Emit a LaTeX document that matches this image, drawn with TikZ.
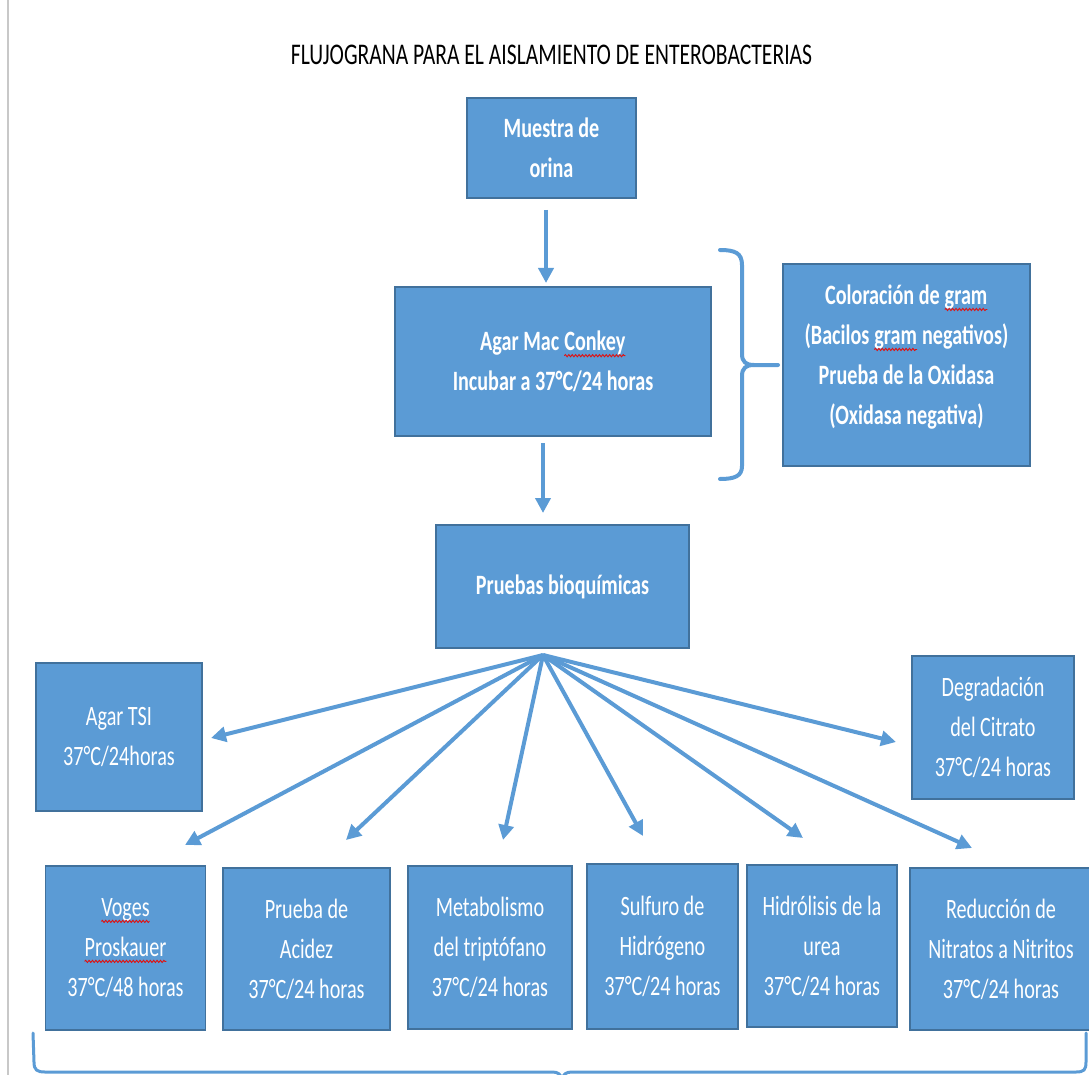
\documentclass[tikz,border=0pt]{standalone}
\usepackage{fontspec}
\setmainfont{Carlito}[FakeStretch=0.72]
\usetikzlibrary{arrows.meta,decorations.pathmorphing}
\definecolor{boxblue}{HTML}{5B9BD5}
\definecolor{boxedge}{HTML}{41719C}
\definecolor{squigred}{HTML}{E01010}
\definecolor{edgegray}{HTML}{C8C8C8}
\newcommand\sqw[1]{\tikz[baseline=(sqn.base)]{\node[draw=none,fill=none,minimum width=0pt,minimum height=0pt,inner sep=0pt,outer sep=0pt,text=white](sqn){#1};\draw[squigred,line width=0.9pt,decorate,decoration={snake,amplitude=1.1pt,segment length=3.4pt}]([yshift=-5pt]sqn.base west)--([yshift=-5pt]sqn.base east);}}
\begin{document}
\begin{tikzpicture}[x=1pt,y=-1pt,
  box/.style={draw=boxedge,line width=1.2pt,fill=boxblue,text=white,align=center,inner sep=0pt,font=\fontsize{28}{40}\selectfont},
  bbox/.style={box,font=\fontsize{28}{40}\selectfont\bfseries},
  txt/.style={text=white,align=center,inner sep=0pt,font=\fontsize{28}{40}\selectfont\bfseries},
  arr/.style={draw=boxblue,line width=4pt,-{Triangle[length=15pt,width=15pt]}},
  brace/.style={draw=boxblue,line width=4pt,line cap=round}]
\useasboundingbox (0,0) rectangle (1089,1075);
\clip (0,0) rectangle (1089,1075);
\draw[edgegray,line width=1.5pt] (8,0) -- (8,1075);
\node[font=\fontsize{30}{36}\selectfont] (title) at (551.5,55) {FLUJOGRANA PARA EL AISLAMIENTO DE ENTEROBACTERIAS};
\node[bbox,minimum width=169pt,minimum height=100pt] (muestra) at (551.5,148) {Muestra de\\orina};
\node[bbox,minimum width=316pt,minimum height=149pt] (mac) at (553,361.5) {Agar Mac \sqw{Conkey}\\Incubar a 37°C/24 horas};
\node[box,minimum width=247pt,minimum height=202pt] (gram) at (906.5,365) {};
\node[txt] (gramtxt) at (906.5,357) {Coloración de \sqw{gram}\\(Bacilos \sqw{gram} negativos)\\Prueba de la Oxidasa\\(Oxidasa negativa)};
\node[bbox,minimum width=253pt,minimum height=123pt] (pruebas) at (562.5,586.5) {Pruebas bioquímicas};
\node[box,minimum width=166pt,minimum height=148pt] (tsi) at (119,737) {Agar TSI\\37°C/24horas};
\node[box,minimum width=162pt,minimum height=143pt] (degr) at (993,727.5) {Degradación\\del Citrato\\37°C/24 horas};
\node[box,minimum width=160pt,minimum height=164pt] (voges) at (125.5,948) {\sqw{Voges}\\\sqw{Proskauer}\\37°C/48 horas};
\node[box,minimum width=167pt,minimum height=162pt] (acidez) at (306.5,949) {Prueba de\\Acidez\\37°C/24 horas};
\node[box,minimum width=164pt,minimum height=163pt] (metab) at (490,947.5) {Metabolismo\\del triptófano\\37°C/24 horas};
\node[box,minimum width=151pt,minimum height=165pt] (sulf) at (662.5,946.5) {Sulfuro de\\Hidrógeno\\37°C/24 horas};
\node[box,minimum width=150pt,minimum height=162pt] (hidro) at (822,946) {Hidrólisis de la\\urea\\37°C/24 horas};
\node[box,minimum width=182pt,minimum height=162pt] (reduc) at (1001,949) {Reducción de\\Nitratos a Nitritos\\37°C/24 horas};
% arrows
\coordinate (a1s) at (546,210);
\coordinate (a1e) at (546,283);
\coordinate (a2s) at (543,443);
\coordinate (a2e) at (543,513);
\draw[arr] (a1s) -- (a1e);
\draw[arr] (a2s) -- (a2e);
\coordinate (fan) at (543,655);
\coordinate (ttsi) at (211,738);
\coordinate (tvoges) at (185,845);
\coordinate (tacidez) at (346,840);
\coordinate (tmetab) at (503,840);
\coordinate (tsulf) at (643,836);
\coordinate (thidro) at (803,838);
\coordinate (treduc) at (972,848);
\coordinate (tdegr) at (896,742);
\foreach \t in {ttsi,tvoges,tacidez,tmetab,tsulf,thidro,treduc,tdegr}
  \draw[arr] (fan) -- (\t);
% right bracket
\draw[brace] (720,250) .. controls (735,250) and (742,253) .. (742,265) -- (742,354) .. controls (742,362) and (746,365) .. (754,365) -- (778,365);
\draw[brace] (754,365) .. controls (746,365) and (742,368) .. (742,376) -- (742,466) .. controls (742,476) and (735,479) .. (720,479);
% bottom bracket
\draw[brace,line width=3pt] (33,1033) -- (34,1062) .. controls (34,1070) and (37,1072) .. (45,1072) -- (552,1072) .. controls (558,1072) and (561,1074) .. (562,1080);
\draw[brace,line width=3pt] (562,1080) .. controls (563,1074) and (566,1072) .. (572,1072) -- (1076,1072) .. controls (1084,1072) and (1086,1070) .. (1086,1062) -- (1086,1033);
\end{tikzpicture}
\end{document}
